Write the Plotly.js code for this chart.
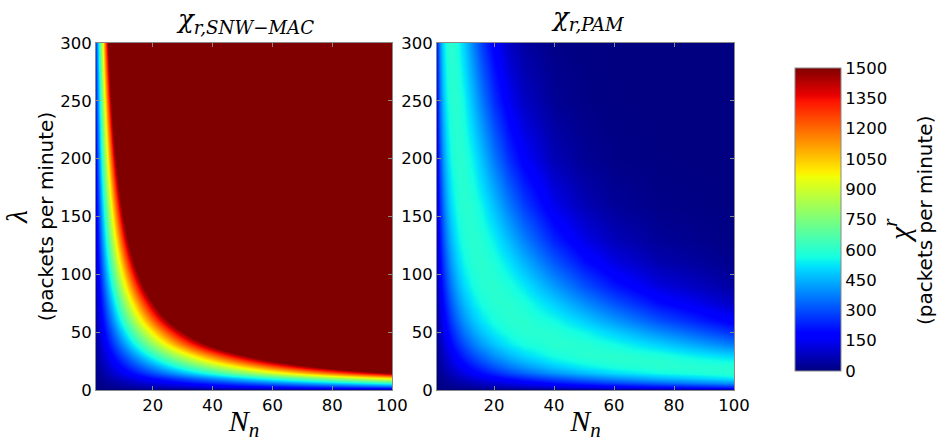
<!DOCTYPE html>
<html><head><meta charset="utf-8">
<script src="https://cdn.plot.ly/plotly-3.0.1.min.js"></script>
<style>html,body{margin:0;padding:0;background:#fff}#chart{width:939px;height:442px}</style>
</head><body><div id="chart"></div>
<script>
// Number of nodes N_n (x) and arrival rate lambda (y, packets per minute)
const nodes = [1, 2, 3, 4, 5, 6, 8, 10, 13, 16, 20, 25, 30, 40, 50, 60, 75, 100];
const lambdas = [0, 3, 6, 10, 15, 20, 25, 30, 40, 50, 60, 75, 90, 110, 130, 160, 200, 250, 300];

// chi_r,SNW-MAC (the colour saturates above 1500)
const chiSNW = [
  [0,0,0,0,0,0,0,0,0,0,0,0,0,0,0,0,0,0],
  [3,6,9,12,15,18,24,30,39,48,60,75,90,120,150,180,225,300],
  [6,12,18,24,30,36,48,60,78,96,120,150,180,240,300,360,450,600],
  [10,20,30,40,50,60,80,100,130,160,200,250,300,400,500,600,750,1000],
  [15,30,45,60,75,90,120,150,195,240,300,375,450,600,750,900,1125,1500],
  [20,40,60,80,100,120,160,200,260,320,400,500,600,800,1000,1200,1500,2000],
  [25,50,75,100,125,150,200,250,325,400,500,625,750,1000,1250,1500,1875,2500],
  [30,60,90,120,150,180,240,300,390,480,600,750,900,1200,1500,1800,2250,3000],
  [40,80,120,160,200,240,320,400,520,640,800,1000,1200,1600,2000,2400,3000,4000],
  [50,100,150,200,250,300,400,500,650,800,1000,1250,1500,2000,2500,3000,3750,5000],
  [60,120,180,240,300,360,480,600,780,960,1200,1500,1800,2400,3000,3600,4500,6000],
  [75,150,225,300,375,450,600,750,975,1200,1500,1875,2250,3000,3750,4500,5625,7500],
  [90,180,270,360,450,540,720,900,1170,1440,1800,2250,2700,3600,4500,5400,6750,9000],
  [110,220,330,440,550,660,880,1100,1430,1760,2200,2750,3300,4400,5500,6600,8250,11000],
  [130,260,390,520,650,780,1040,1300,1690,2080,2600,3250,3900,5200,6500,7800,9750,13000],
  [160,320,480,640,800,960,1280,1600,2080,2560,3200,4000,4800,6400,8000,9600,12000,16000],
  [200,400,600,800,1000,1200,1600,2000,2600,3200,4000,5000,6000,8000,10000,12000,15000,20000],
  [250,500,750,1000,1250,1500,2000,2500,3250,4000,5000,6250,7500,10000,12500,15000,18750,25000],
  [300,600,900,1200,1500,1800,2400,3000,3900,4800,6000,7500,9000,12000,15000,18000,22500,30000]
];

// chi_r,PAM
const chiPAM = [
  [0,0,0,0,0,0,0,0,0,0,0,0,0,0,0,0,0,0],
  [3,6,9,11,14,17,23,28,37,45,56,69,82,107,132,155,189,241],
  [6,11,17,23,28,34,45,56,72,87,107,132,155,200,241,280,332,405],
  [10,19,28,38,47,56,73,91,116,140,171,207,241,303,358,405,463,533],
  [14,28,42,56,69,82,107,132,167,200,241,289,332,405,463,509,557,596],
  [19,38,56,73,91,107,140,171,214,254,303,358,405,480,533,569,596,592],
  [24,47,69,91,111,132,171,207,258,303,358,415,463,533,575,596,597,552],
  [28,56,82,107,132,155,200,241,298,347,405,463,509,569,596,599,575,493],
  [38,73,107,140,171,200,254,303,368,422,480,533,569,599,592,561,493,365],
  [47,91,132,171,207,241,303,358,426,480,533,575,596,592,552,493,396,253],
  [56,107,155,200,241,280,347,405,473,524,569,596,599,561,493,416,306,169],
  [69,132,189,241,289,332,405,463,527,569,596,597,575,493,396,306,198,87],
  [82,155,221,280,332,377,453,509,564,593,599,575,530,416,306,216,122,43],
  [99,186,261,326,382,430,503,553,592,600,579,524,455,318,208,131,62,16],
  [116,214,298,368,426,473,542,581,600,587,541,461,377,234,136,76,30,6],
  [140,254,347,422,480,524,579,599,587,545,468,365,274,142,69,32,10,1],
  [171,303,405,480,533,569,599,592,541,468,365,253,169,69,27,10,2,0],
  [207,358,463,533,575,596,592,552,461,365,253,152,87,27,8,2,0,0],
  [241,405,509,569,596,599,561,493,377,274,169,87,43,10,2,0,0,0]
];

const xTicks = [20, 40, 60, 80, 100];
const yTicks = [0, 50, 100, 150, 200, 250, 300];
const cbTicks = [0, 150, 300, 450, 600, 750, 900, 1050, 1200, 1350, 1500];

const jet = [
  [0, 'rgb(0,0,128)'], [0.11, 'rgb(0,0,255)'], [0.125, 'rgb(0,0,255)'],
  [0.34, 'rgb(0,219,255)'], [0.35, 'rgb(0,230,247)'], [0.375, 'rgb(21,255,226)'],
  [0.64, 'rgb(239,255,8)'], [0.65, 'rgb(247,246,0)'], [0.66, 'rgb(255,236,0)'],
  [0.89, 'rgb(255,19,0)'], [0.91, 'rgb(232,0,0)'], [1, 'rgb(128,0,0)']
];

const W = 939, H = 442;
const px = v => v / W, py = v => 1 - v / H;

const traces = [
  {type: 'heatmap', x: nodes, y: lambdas, z: chiSNW, zsmooth: 'best', coloraxis: 'coloraxis', xaxis: 'x', yaxis: 'y', hoverinfo: 'skip'},
  {type: 'heatmap', x: nodes, y: lambdas, z: chiPAM, zsmooth: 'best', coloraxis: 'coloraxis', xaxis: 'x2', yaxis: 'y2', hoverinfo: 'skip'}
];

const tickFont = {family: 'DejaVu Sans', size: 16.5, color: '#000'};
const labFont = {family: 'DejaVu Sans', size: 20, color: '#000'};
const nnTitle = {text: '<i>N</i><sub><i>n</i></sub>', font: {family: 'Liberation Serif', size: 30, color: '#000'}, standoff: 0};
const axBase = {
  showline: true, mirror: 'ticks', linecolor: '#8a8a8a', linewidth: 1,
  ticks: 'inside', ticklen: 4, tickcolor: '#8a8a8a', tickwidth: 1,
  showgrid: false, zeroline: false, tickfont: tickFont, fixedrange: true, automargin: false
};
const xa = (dom, anchor) => Object.assign({}, axBase, {domain: dom, anchor: anchor, range: [1, 100], tickvals: xTicks, ticktext: xTicks.map(String), title: nnTitle});
const ya = (dom, anchor, title) => Object.assign({}, axBase, {domain: dom, anchor: anchor, range: [0, 300], tickvals: yTicks, ticktext: yTicks.map(String), title: title});

const yDom = [py(390), py(43)];
const mathFont = {family: 'DejaVu Serif', size: 26, color: '#000'};
const lamSpan = '<span style="font-family:Liberation Serif;font-size:30px"><i>λ</i></span>';

const layout = {
  width: W, height: H, autosize: false,
  margin: {l: 0, r: 0, t: 0, b: 0, pad: 0},
  paper_bgcolor: '#fff', plot_bgcolor: '#fff',
  showlegend: false,
  title: {text: '<i>χ</i><sub><i>r,SNW−MAC</i></sub>', font: mathFont,
          x: px(246), xref: 'paper', xanchor: 'center', y: py(19), yref: 'paper', yanchor: 'middle'},
  xaxis: xa([px(96), px(392)], 'y'),
  yaxis: ya(yDom, 'x', {text: lamSpan + '<br>(packets per minute)', font: labFont, standoff: 10}),
  xaxis2: xa([px(437), px(734)], 'y2'),
  yaxis2: ya(yDom, 'x2', {text: ''}),
  coloraxis: {
    cmin: 0, cmax: 1500, colorscale: jet,
    colorbar: {
      x: px(795), xanchor: 'left', y: 1 - 219.5 / H, yanchor: 'middle',
      thickness: 46, thicknessmode: 'pixels', len: 303 / H, lenmode: 'fraction',
      xpad: 0, ypad: 0, outlinewidth: 1, outlinecolor: '#8a8a8a',
      tickvals: cbTicks, ticktext: cbTicks.map(String), ticks: '',
      tickfont: tickFont
    }
  },
  annotations: [
    {xref: 'paper', yref: 'paper', showarrow: false, xanchor: 'center', yanchor: 'middle',
     x: px(587), y: py(19), text: '<i>χ</i><sub><i>r,PAM</i></sub>', font: mathFont},
    {xref: 'paper', yref: 'paper', showarrow: false, xanchor: 'center', yanchor: 'middle', textangle: -90,
     x: px(897), y: py(231), text: '<i>χ</i><sup><i>r</i></sup>', font: {family: 'Liberation Serif', size: 30, color: '#000'}},
    {xref: 'paper', yref: 'paper', showarrow: false, xanchor: 'center', yanchor: 'middle', textangle: -90,
     x: px(925), y: py(221), text: '(packets per minute)', font: labFont}
  ]
};

Plotly.newPlot('chart', traces, layout, {displayModeBar: false, staticPlot: true});
</script>
</body></html>
